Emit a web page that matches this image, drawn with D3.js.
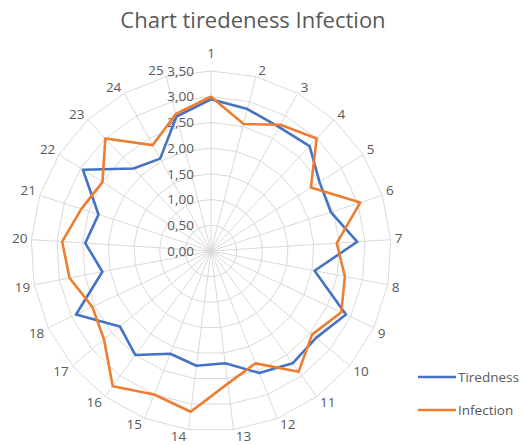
<!DOCTYPE html>
<html>
<head>
<meta charset="utf-8">
<script src="https://cdn.jsdelivr.net/npm/d3@7"></script>
<style>
  body { margin: 0; background: #fff; }
  svg { display: block; font-family: "Open Sans", sans-serif; }
  .grid { fill: none; stroke: #d9d9d9; stroke-width: 1; }
  .tick-label, .cat-label, .legend-label { fill: #595959; font-size: 13.5px; }
  .title { fill: #595959; font-size: 22px; }
</style>
</head>
<body>
<div id="chart"></div>
<script>
// Data
const categories = d3.range(1, 26).map(String);
const tiredness = [2.95, 2.85, 2.75, 2.8, 2.5, 2.45, 2.85, 2.05, 2.9, 2.65, 2.7, 2.55, 2.2,
                   2.25, 2.15, 2.5, 2.3, 2.9, 2.15, 2.45, 2.3, 2.95, 2.2, 2.05, 2.7];
const infection = [3.0, 2.55, 2.8, 3.0, 2.3, 3.05, 2.45, 2.65, 2.8, 2.55, 2.9, 2.35, 2.6,
                   3.15, 3.0, 3.25, 2.7, 2.55, 2.8, 2.9, 2.65, 2.5, 3.0, 2.35, 2.75];
const tickValues = [0, 0.5, 1, 1.5, 2, 2.5, 3, 3.5];
const seriesNames = ["Tiredness", "Infection"];
const colors = ["#4472c4", "#ed7d31"];

const width = 523, height = 445;
const cx = 211, cy = 251, radius = 180;

const svg = d3.select("#chart").append("svg")
    .attr("width", width)
    .attr("height", height);

// Scales
const rScale = d3.scaleLinear().domain([0, 3.5]).range([0, radius]);
const aScale = d3.scaleLinear().domain([0, categories.length]).range([0, 2 * Math.PI]);
const fmt = v => d3.format(".2f")(v).replace(".", ",");

const g = svg.append("g").attr("transform", `translate(${cx},${cy})`);

// Grid rings (polygons)
const ringLine = d3.lineRadial()
    .angle((d, i) => aScale(i))
    .curve(d3.curveLinearClosed);

g.selectAll(".ring")
    .data(tickValues.filter(v => v > 0))
    .enter()
    .append("path")
    .attr("class", "grid")
    .attr("d", v => ringLine.radius(rScale(v))(categories));

// Spokes
g.selectAll(".spoke")
    .data(categories)
    .enter()
    .append("line")
    .attr("class", "grid")
    .attr("x1", 0).attr("y1", 0)
    .attr("x2", (d, i) => rScale(3.5) * Math.sin(aScale(i)))
    .attr("y2", (d, i) => -rScale(3.5) * Math.cos(aScale(i)));

// Tick labels
g.selectAll(".tick-label")
    .data(tickValues)
    .enter()
    .append("text")
    .attr("class", "tick-label")
    .attr("x", -17)
    .attr("y", v => -rScale(v))
    .attr("dy", "0.35em")
    .attr("text-anchor", "end")
    .text(fmt);

// Category labels: text box placed just outside the end of each spoke
const clamp = v => Math.max(-1, Math.min(1, v));
g.selectAll(".cat-label")
    .data(categories)
    .enter()
    .append("text")
    .attr("class", "cat-label")
    .attr("dy", "0.35em")
    .attr("text-anchor", "middle")
    .text(d => d)
    .each(function (d, i) {
        const a = aScale(i), s = Math.sin(a), c = Math.cos(a);
        const w = this.getComputedTextLength();
        const gap = i === 0 ? 13 : 2;   // first label clears the value axis
        const x = (radius + gap) * s + clamp(s * 8) * (w / 2 + 2);
        const y = -(radius + gap) * c - clamp(c * 3) * 4.5;
        d3.select(this).attr("x", x).attr("y", y);
    });

// Series lines
const seriesLine = d3.lineRadial()
    .angle((d, i) => aScale(i))
    .radius(d => rScale(d))
    .curve(d3.curveLinearClosed);

g.selectAll(".series")
    .data([tiredness, infection])
    .enter()
    .append("path")
    .attr("class", "series")
    .attr("fill", "none")
    .attr("stroke", (d, i) => colors[i])
    .attr("stroke-width", 2.6)
    .attr("stroke-linejoin", "round")
    .attr("d", seriesLine);

// Title
svg.append("text")
    .attr("class", "title")
    .attr("x", 253)
    .attr("y", 20)
    .attr("dy", "0.35em")
    .attr("text-anchor", "middle")
    .text("Chart tiredeness Infection");

// Legend
const legend = svg.selectAll(".legend")
    .data(seriesNames)
    .enter()
    .append("g")
    .attr("transform", (d, i) => `translate(418, ${377 + i * 33})`);

legend.append("line")
    .attr("x1", 0).attr("x2", 38)
    .attr("stroke", (d, i) => colors[i])
    .attr("stroke-width", 2.6);

legend.append("text")
    .attr("class", "legend-label")
    .attr("x", 40)
    .attr("dy", "0.35em")
    .text(d => d);
</script>
</body>
</html>
